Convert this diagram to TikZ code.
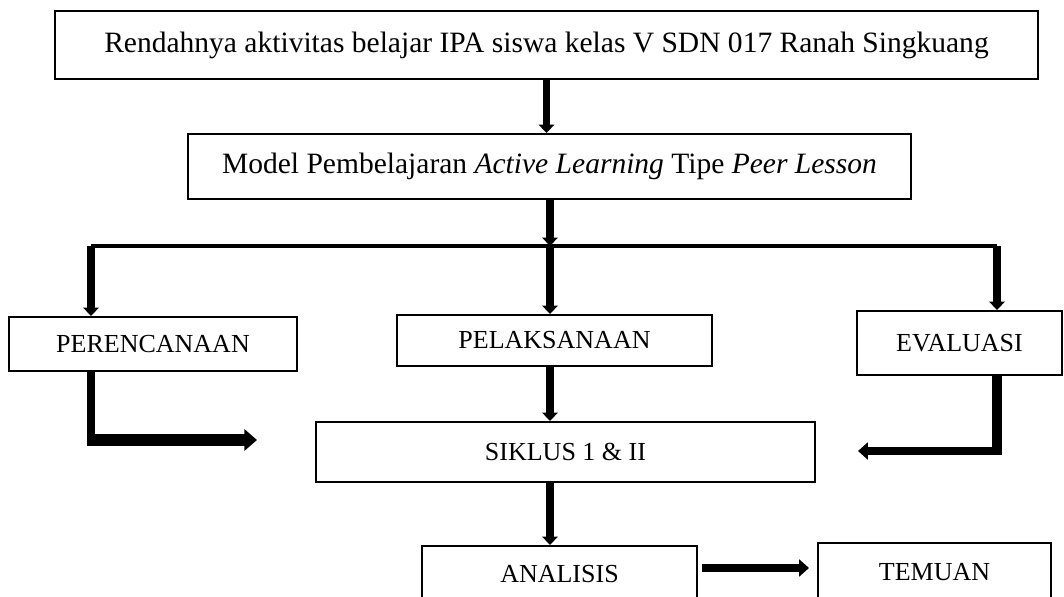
\documentclass[tikz,border=0pt]{standalone}
\usepackage{fontspec}
\setmainfont{Liberation Serif}
\usetikzlibrary{arrows.meta, calc}

\begin{document}
\begin{tikzpicture}[
        every node/.style={align=center},
        box/.style={draw, line width=1.4pt, inner sep=0pt, font=\fontsize{18.5}{22}\selectfont},
        bigbox/.style={box, font=\fontsize{21}{25}\selectfont},
        arrow/.style={-{Triangle[length=6pt, width=11pt]}, line width=5pt},
        shaft/.style={line width=5pt},
        fat/.style={-{Triangle[length=7pt, width=12pt]}, line width=6pt},
        bar/.style={line width=3.5pt}]

        \useasboundingbox (0,0) rectangle (26.6,-14.925);
        \clip (0,0) rectangle (26.6,-14.925);

        % Kotak atas
        \node[bigbox, minimum width=24.575cm, minimum height=1.7cm] (masalah) at (13.6625,-1.125)
            {Rendahnya aktivitas belajar IPA siswa kelas V SDN 017 Ranah Singkuang};
        \node[bigbox, minimum width=18.075cm, minimum height=1.625cm] (model) at (13.7375,-4.1625)
            {Model Pembelajaran \textit{Active Learning} Tipe \textit{Peer Lesson}};

        % Tiga tahap
        \node[box, minimum width=7.2cm, minimum height=1.35cm]   (perencanaan) at (3.825,-8.6)     {PERENCANAAN};
        \node[box, minimum width=7.875cm, minimum height=1.275cm] (pelaksanaan) at (13.8625,-8.5125) {PELAKSANAAN};
        \node[box, minimum width=5.125cm, minimum height=1.6cm]  (evaluasi)    at (23.9875,-8.575)  {EVALUASI};

        % Siklus dan hasil
        \node[box, minimum width=12.475cm, minimum height=1.5cm] (siklus)   at (14.1375,-11.3) {SIKLUS 1 \& II};
        \node[box, minimum width=6.875cm, minimum height=1.4cm]  (analisis) at (13.9875,-14.35) {ANALISIS};
        \node[box, minimum width=5.825cm, minimum height=1.45cm] (temuan)   at (23.3625,-14.3)  {TEMUAN};

        % Titik bantu
        \coordinate (cabang)  at (13.75,-6.15);
        \coordinate (kiri)    at (2.275,-6.15);
        \coordinate (kanan)   at (24.925,-6.15);
        \coordinate (sudutki) at (2.275,-11.0);
        \coordinate (sudutka) at (24.925,-11.275);
        \coordinate (ujungki) at (6.425,-11.0);
        \coordinate (ujungka) at (21.45,-11.275);

        % Panah
        \draw[arrow] (masalah.south) -- (masalah.south |- model.north);
        \draw[arrow] (model.south -| cabang) -- (cabang);
        \draw[bar] (kiri) -- (kanan);
        \draw[arrow] (kiri) -- (kiri |- perencanaan.north);
        \draw[arrow] (cabang) -- (cabang |- pelaksanaan.north);
        \draw[arrow] (kanan) -- (kanan |- evaluasi.north);

        \draw[shaft] (kiri |- perencanaan.south) -- (sudutki);
        \draw[fat, line width=8pt, -{Triangle[length=9pt, width=15pt]}] ([xshift=-2.5pt]sudutki) -- (ujungki);
        \draw[shaft, line width=6.5pt] (kanan |- evaluasi.south) -- (sudutka);
        \draw[fat] ([xshift=3.25pt]sudutka) -- (ujungka);
        \draw[arrow] (cabang |- pelaksanaan.south) -- (cabang |- siklus.north);
        \draw[arrow] (cabang |- siklus.south) -- (cabang |- analisis.north);
        \draw[fat, shorten <=0.1cm, shorten >=0.2cm] ([yshift=0.15cm]analisis.east) -- ([yshift=0.15cm]analisis.east -| temuan.west);
    \end{tikzpicture}
\end{document}
